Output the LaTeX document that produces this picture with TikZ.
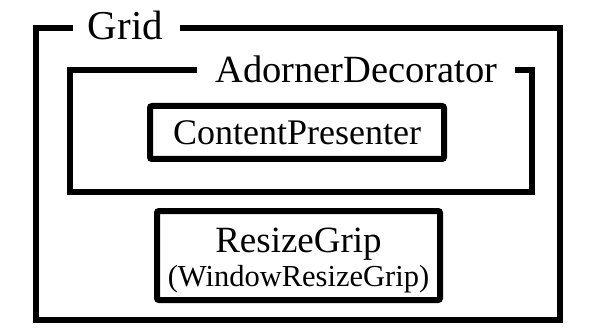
\documentclass[tikz,border=0pt]{standalone}
\usepackage{fontspec}
\setmainfont{Liberation Serif}
\usepackage{tikz}
\tikzset{
  frm/.style={line width=6pt,line join=miter},
  box/.style={draw,line width=6pt,rounded corners=2pt,inner sep=0pt},
  ttl/.style={anchor=base,inner sep=0pt}
}
\newcommand{\fs}[1]{\fontsize{#1}{#1}\selectfont}

\begin{document}
\begin{tikzpicture}[x=1pt,y=-1pt]
\useasboundingbox (0,0) rectangle (600,334);
\node[ttl] (gridttl) at (125.5,40) {\fs{41}Grid};
\draw[frm] (73,28) -- (36,28) -- (36,320) -- (560,320) -- (560,28) -- (180,28);
\node[ttl] (adorttl) at (356.5,83) {\fs{38.5}AdornerDecorator};
\draw[frm] (197,70) -- (70,70) -- (70,192) -- (532,192) -- (532,70) -- (515,70);
\node[box,minimum width=294pt,minimum height=53pt] (content) at (297,132.5) {\fs{36}ContentPresenter};
\node[box,minimum width=283pt,minimum height=89pt] (grip) at (298.5,255.5) {};
\node[ttl] (gripttl) at (298.5,252) {\fs{37}ResizeGrip};
\node[ttl] (gripsub) at (298.5,286) {\fs{30.5}(WindowResizeGrip)};
\end{tikzpicture}
\end{document}
